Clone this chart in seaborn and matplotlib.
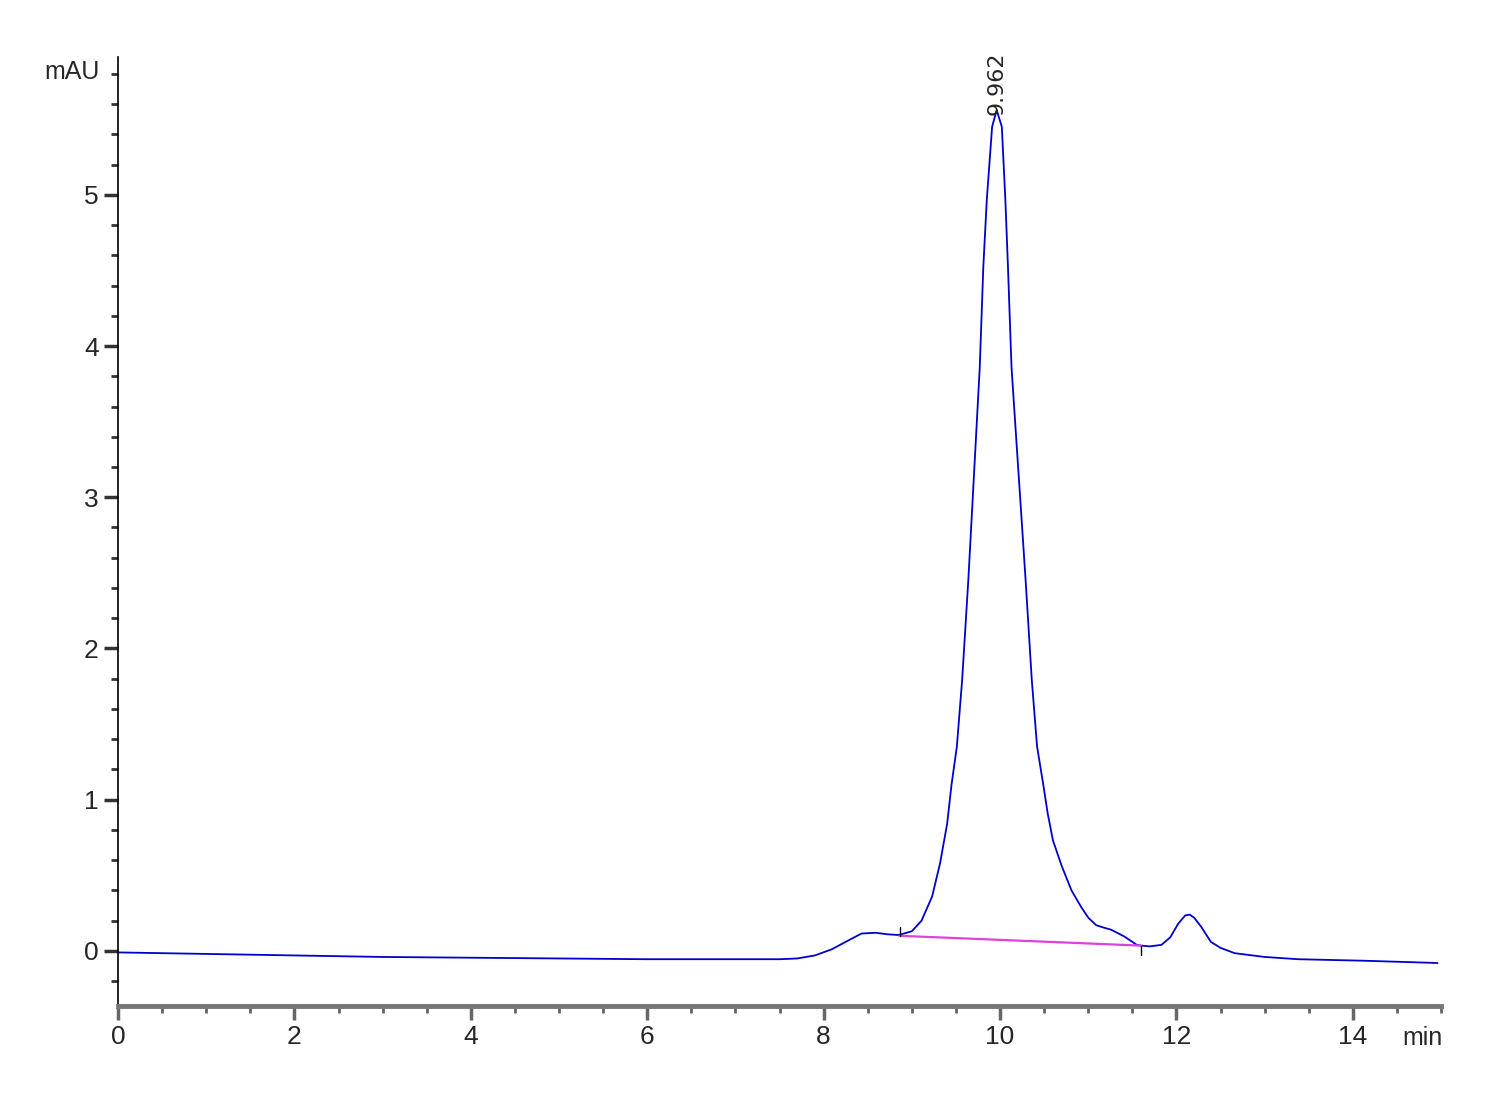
import pandas as pd
import seaborn as sns
import matplotlib.pyplot as plt
from matplotlib.ticker import MultipleLocator

# chromatogram trace (time in min, signal in mAU)
time_min = [0, 1, 2, 3, 4, 5, 6, 7, 7.5, 7.7, 7.9, 8.09, 8.25, 8.43, 8.59,
            8.72, 8.85, 9.0, 9.11, 9.23, 9.32, 9.40, 9.45, 9.51, 9.57,
            9.64, 9.70, 9.77, 9.81, 9.85, 9.91, 9.962, 10.02, 10.06, 10.09,
            10.13, 10.19, 10.23, 10.29, 10.36, 10.42, 10.49, 10.54, 10.60,
            10.70, 10.81, 10.92, 11.0, 11.09, 11.17, 11.26, 11.41, 11.55,
            11.6, 11.7, 11.83, 11.93, 12.02, 12.1, 12.15, 12.2, 12.28, 12.39,
            12.5, 12.66, 13.0, 13.38, 14.13, 14.96]
signal_mau = [-0.01, -0.02, -0.03, -0.04, -0.045, -0.05, -0.055, -0.055,
              -0.055, -0.05, -0.03, 0.01, 0.06, 0.115, 0.12, 0.11, 0.105,
              0.13, 0.20, 0.36, 0.58, 0.84, 1.10, 1.35, 1.79, 2.45, 3.10,
              3.86, 4.52, 4.97, 5.45, 5.56, 5.45, 4.97, 4.52, 3.86, 3.33,
              2.98, 2.45, 1.79, 1.35, 1.10, 0.91, 0.73, 0.56, 0.40, 0.29,
              0.22, 0.17, 0.155, 0.14, 0.095, 0.04, 0.035, 0.03, 0.04, 0.09,
              0.18, 0.235, 0.24, 0.22, 0.16, 0.06, 0.02, -0.015, -0.04,
              -0.055, -0.065, -0.08]

# integration baseline under the main peak
base_time = [8.86, 11.6]
base_signal = [0.10, 0.035]
peak_rt = 9.962
peak_top = 5.56

df = pd.DataFrame({"time": time_min, "signal": signal_mau})

sns.set_style("ticks")
plt.rcParams['font.family'] = ['Liberation Sans Narrow', 'Liberation Sans', 'DejaVu Sans']

fig = plt.figure(figsize=(15, 11), dpi=100)
ax = fig.add_axes([0.0787, 0.0855, 0.882, 0.8625])

sns.lineplot(data=df, x="time", y="signal", color="#0000cc", linewidth=1.3, ax=ax)
ax.plot(base_time, base_signal, color="#e040e0", linewidth=1.6)

# integration start/end marks
ax.plot([base_time[0], base_time[0]], [base_signal[0], base_signal[0] + 0.06], color="black", lw=1)
ax.plot([base_time[1], base_time[1]], [base_signal[1], base_signal[1] - 0.06], color="black", lw=1)

ax.text(peak_rt, peak_top - 0.03, f"{peak_rt:.3f}", rotation=90, ha="center", va="bottom",
        fontsize=16, family=['DejaVu Sans'])

ax.set_xlim(0, 15)
ax.set_ylim(-0.364, 5.91)
ax.xaxis.set_major_locator(MultipleLocator(2))
ax.xaxis.set_minor_locator(MultipleLocator(0.5))
ax.yaxis.set_major_locator(MultipleLocator(1))
ax.yaxis.set_minor_locator(MultipleLocator(0.2))

ax.set_xlabel("")
ax.set_ylabel("")
sns.despine(ax=ax)
ax.spines['bottom'].set_color("#777777")
ax.spines['bottom'].set_linewidth(3.5)
ax.spines['left'].set_color("black")
ax.spines['left'].set_linewidth(1.2)

ax.tick_params(axis="both", which="major", labelsize=19, length=10, width=2.5, color="#666666", pad=4)
ax.tick_params(axis="both", which="minor", length=5, width=2, color="#666666")
ax.tick_params(axis="y", which="both", color="#333333")

fig.text(100 / 1500, 1 - 72 / 1100, "mAU", fontsize=18, ha="right", va="center")
fig.text(1443 / 1500, 1 - 1038 / 1100, "min", fontsize=18, ha="right", va="center")

fig.savefig("out.png", dpi=100, facecolor="white")
